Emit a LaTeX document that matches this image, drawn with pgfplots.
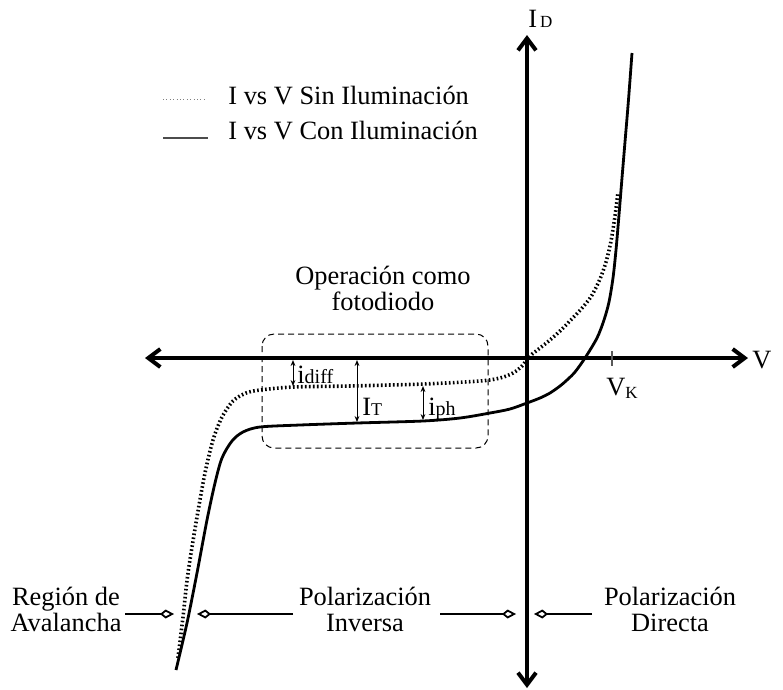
\documentclass[border=0pt]{standalone}
\usepackage{pgfplots}
\pgfplotsset{compat=1.18}
\usepackage{fontspec}
\setmainfont{Liberation Serif}
\usetikzlibrary{arrows.meta}

\newcommand{\lbl}{\fontsize{13.2}{13}\selectfont}
\newcommand{\sub}{\fontsize{8.5}{8.5}\selectfont}

\begin{document}
\begin{tikzpicture}
\useasboundingbox (0,0) rectangle (391.5pt,-345pt);
\clip (0,0) rectangle (391.5pt,-345pt);
\begin{axis}[
  x=0.5pt, y=0.5pt, y dir=reverse,
  xmin=0, xmax=783, ymin=0, ymax=690,
  hide axis, clip=false,
  anchor=origin, at={(0,0)},
]
% I-V curve without illumination
\addplot[black, line width=1.8pt, dash pattern=on 0.8pt off 1.2pt, smooth, tension=0.5]
coordinates {
(178,658)(183,617)(188,573)(197,517)(205,473)(213,440)(222,417)(233,401)
(246,393)(260,390)(293,387)(350,386)(423,384)(480,381)(500,378)(513,373)
(522,366)(530,356)(540,348)(550,340)(560,331)(567,324)(583,307)(592,295)
(600,279)(606,262)(611,241)(615,216)(618,192)
};
% I-V curve with illumination
\addplot[black, line width=1.4pt, smooth, tension=0.5]
coordinates {
(176,670)(187,623)(197,573)(207,520)(215,483)(222,458)(232,441)(243,432)
(260,427)(300,425)(357,423)(423,421)(460,418)(490,413)(510,409)(527,403)
(540,398)(550,393)(560,386)(567,380)(575,372)(585,358)(597,338)(604,320)
(609,302)(613,278)(616,250)(619,215)(622,178)(625,142)(628,106)(630,80)(632,53)
};

% coordinate axes
\draw[line width=2pt, {Straight Barb[length=6pt,width=9pt]}-{Straight Barb[length=6pt,width=9pt]}]
  (axis cs:145,358) -- (axis cs:748,358);
\draw[line width=2pt, {Straight Barb[length=6pt,width=9pt]}-{Straight Barb[length=6pt,width=9pt]}]
  (axis cs:527,688) -- (axis cs:527,35);
\node[anchor=base west, inner sep=0pt, font=\lbl] at (axis cs:528,27) {I{\sub\,D}};
\node[anchor=base west, inner sep=0pt, font=\lbl] at (axis cs:752,368) {V};
\draw[gray!70!black, line width=0.6pt] (axis cs:612,351) -- (axis cs:612,366);
\node[anchor=base west, inner sep=0pt, font=\lbl] at (axis cs:606,395) {V\raisebox{-1.5pt}{\sub K}};

% photodiode operating region
\draw[line width=0.5pt, dash pattern=on 3pt off 2pt, rounded corners=6pt]
  (axis cs:262,334) rectangle (axis cs:488,448);
\node[align=center, font=\lbl, inner sep=0pt] at (axis cs:383,288) {Operación como\\fotodiodo};

% current components
\draw[line width=0.5pt, {Stealth[length=3pt,width=2.4pt]}-{Stealth[length=3pt,width=2.4pt]}]
  (axis cs:293,360) -- (axis cs:293,386);
\draw[line width=0.5pt, {Stealth[length=3pt,width=2.4pt]}-{Stealth[length=3pt,width=2.4pt]}]
  (axis cs:357,360) -- (axis cs:357,422);
\draw[line width=0.5pt, {Stealth[length=3pt,width=2.4pt]}-{Stealth[length=3pt,width=2.4pt]}]
  (axis cs:423,386) -- (axis cs:423,420);
\node[anchor=base west, inner sep=0pt, font=\lbl] at (axis cs:297,383) {i{\fontsize{10}{10}\selectfont diff}};
\node[anchor=base west, inner sep=0pt, font=\lbl] at (axis cs:362,415) {I{\fontsize{9}{9}\selectfont T}};
\node[anchor=base west, inner sep=0pt, font=\lbl] at (axis cs:428,415) {i{\fontsize{10}{10}\selectfont ph}};

% legend
\draw[gray, line width=0.4pt, dash pattern=on 0.5pt off 1.2pt] (axis cs:163,99) -- (axis cs:205,99);
\draw[gray!60!black, line width=0.8pt] (axis cs:163,138) -- (axis cs:208,138);
\node[anchor=base west, inner sep=0pt, font=\lbl] at (axis cs:228,104) {I vs V Sin Iluminación};
\node[anchor=base west, inner sep=0pt, font=\lbl] at (axis cs:228,139) {I vs V Con Iluminación};

% bias regions
\node[align=center, font=\lbl, inner sep=0pt] at (axis cs:66,609) {Región de\\Avalancha};
\node[align=center, font=\lbl, inner sep=0pt] at (axis cs:365,609) {Polarización\\Inversa};
\node[align=center, font=\lbl, inner sep=0pt] at (axis cs:670,609) {Polarización\\Directa};
\tikzset{regarrow/.style={line width=1.1pt, -{Kite[open,length=7pt,width=4.5pt,inset=2.8pt,line width=0.9pt]}}}
\draw[regarrow] (axis cs:125,614) -- (axis cs:174,614);
\draw[regarrow] (axis cs:293,614) -- (axis cs:197,614);
\draw[regarrow] (axis cs:440,614) -- (axis cs:516,614);
\draw[regarrow] (axis cs:592,614) -- (axis cs:534,614);
\end{axis}
\end{tikzpicture}
\end{document}
